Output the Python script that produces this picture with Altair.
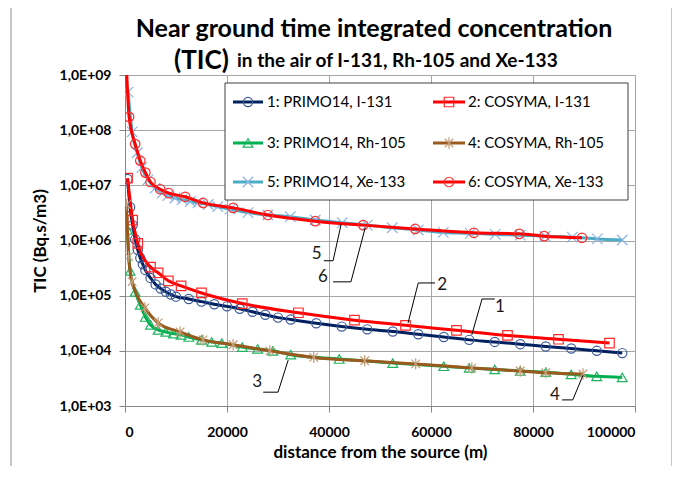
import altair as alt
import pandas as pd

# ---------------- data ----------------
names = ["1: PRIMO14, I-131", "2: COSYMA, I-131", "3: PRIMO14, Rh-105",
         "4: COSYMA, Rh-105", "5: PRIMO14, Xe-133", "6: COSYMA, Xe-133"]

s1_d = [500, 1000, 1500, 2000, 2500, 3000, 3500, 4000, 5000, 6000, 7000, 8000, 9000, 10000,
        12500, 15000, 17500, 20000, 22500, 25000, 27500, 30000, 32500, 37500, 42500, 47500,
        52500, 57500, 62500, 67500, 72500, 77500, 82500, 87500, 92500, 97500]
s1_v = [1.3e7, 4.0e6, 1.9e6, 1.05e6, 6.8e5, 4.8e5, 3.7e5, 2.9e5, 2.1e5, 1.6e5, 1.35e5, 1.18e5,
        1.05e5, 9.6e4, 8.7e4, 7.8e4, 7.0e4, 6.4e4, 5.8e4, 5.1e4, 4.5e4, 4.0e4, 3.7e4, 3.16e4,
        2.75e4, 2.45e4, 2.24e4, 2.0e4, 1.78e4, 1.58e4, 1.45e4, 1.32e4, 1.2e4, 1.1e4, 1.0e4, 9.1e3]

s2_d = [500, 1500, 2500, 5000, 6500, 8500, 11000, 15000, 23000, 34000, 45000, 55000, 65000,
        75000, 85000, 95000]
s2_v = [1.35e7, 2.35e6, 8.9e5, 3.3e5, 2.6e5, 1.86e5, 1.5e5, 1.12e5, 7.2e4, 4.9e4, 3.6e4, 2.9e4,
        2.35e4, 1.9e4, 1.62e4, 1.38e4]

s3_d = [500, 1000, 2000, 3000, 4000, 5000, 6500, 8000, 9500, 11000, 12500, 15000, 17000, 19000,
        23000, 26000, 29000, 32500, 42000, 52500, 62500, 67500, 72500, 77500, 82500, 87500,
        92500, 97500]
s3_v = [1.55e6, 2.8e5, 1.17e5, 6.8e4, 4.1e4, 2.95e4, 2.4e4, 2.2e4, 2.05e4, 1.95e4, 1.78e4,
        1.58e4, 1.45e4, 1.38e4, 1.17e4, 1.08e4, 1.0e4, 8.5e3, 7.1e3, 6.0e3, 5.25e3, 4.9e3,
        4.6e3, 4.3e3, 4.1e3, 3.75e3, 3.45e3, 3.3e3]

s4_d = [300, 700, 1400, 3900, 6500, 10800, 15300, 21200, 28400, 37000, 47000, 57000, 68000,
        77500, 82500, 89800]
s4_v = [4.5e6, 5.1e5, 1.8e5, 6.0e4, 3.2e4, 2.2e4, 1.58e4, 1.29e4, 1.0e4, 7.6e3, 6.6e3, 5.8e3,
        4.9e3, 4.3e3, 4.0e3, 3.8e3]

s5_d = [600, 1400, 2400, 3300, 4500, 5900, 7300, 8400, 9800, 11200, 12800, 14300, 16300, 18200,
        20600, 24100, 28000, 32400, 37300, 42600, 47500, 52400, 57500, 62400, 67700, 72600,
        77500, 82400, 87700, 92600, 97500]
s5_v = [4.9e8, 9.3e7, 3.9e7, 2.1e7, 1.26e7, 8.9e6, 7.2e6, 6.5e6, 5.9e6, 5.5e6, 5.1e6, 4.8e6,
        4.5e6, 4.1e6, 3.7e6, 3.2e6, 2.9e6, 2.7e6, 2.35e6, 2.1e6, 1.9e6, 1.7e6, 1.55e6, 1.4e6,
        1.35e6, 1.29e6, 1.25e6, 1.2e6, 1.15e6, 1.07e6, 1.02e6]

s6_d = [300, 800, 2000, 3000, 4000, 5000, 6900, 8600, 11800, 15300, 21200, 28000, 37300, 46700,
        56900, 68400, 77300, 82200, 89600]
s6_v = [1.3e9, 1.74e8, 5.6e7, 2.8e7, 1.7e7, 1.15e7, 8.5e6, 7.2e6, 6.2e6, 4.8e6, 3.9e6, 2.9e6,
        2.24e6, 1.9e6, 1.62e6, 1.38e6, 1.32e6, 1.2e6, 1.12e6]

series_d = [s1_d, s2_d, s3_d, s4_d, s5_d, s6_d]
series_v = [s1_v, s2_v, s3_v, s4_v, s5_v, s6_v]

# leader lines for the numbered labels (distance, value)
leader_id = ["5", "5", "5", "6", "6", "6", "2", "2", "2", "1", "1", "1", "3", "3", "3", "4", "4", "4"]
leader_k = [0, 1, 2] * 6
leader_d = [39000, 40800, 42400, 40800, 44300, 47100, 60800, 57500, 55500,
            72500, 70000, 68000, 27100, 30000, 32000, 85700, 87800, 89800]
leader_v = [4.3e5, 4.3e5, 2.0e6, 1.78e5, 1.78e5, 1.7e6, 1.7e5, 1.7e5, 3.2e4,
            8.7e4, 8.7e4, 1.95e4, 1.78e3, 1.78e3, 6.8e3, 1.29e3, 1.29e3, 3.6e3]

label_txt = ["5", "6", "2", "1", "3", "4"]
label_d = [37600, 38800, 62200, 73500, 25900, 84300]
label_v = [5.7e5, 2.2e5, 1.55e5, 6.2e4, 2.75e3, 1.58e3]

x_ticks = [0, 20000, 40000, 60000, 80000, 100000]
y_ticks = [1e3, 1e4, 1e5, 1e6, 1e7, 1e8, 1e9]

title1 = "Near ground time integrated concentration"
title2a = "(TIC)"
title2b = "in the air of I-131, Rh-105 and Xe-133"

# ---------------- styles ----------------
FONT = "Lato"
ASTER = "M-0.75,-0.75L0.75,0.75M-0.75,0.75L0.75,-0.75M0,-1L0,1"
XSH = "M-1,-1L1,1M-1,1L1,-1"
line_colors = ["#002060", "#ff0000", "#00b050", "#9a5a1e", "#4bacc6", "#ff0000"]
mark_colors = ["#3d5a99", "#ff2a2a", "#1fb35f", "#c39b76", "#8db4e2", "#ff3030"]
shapes = ["circle", "square", "triangle-up", ASTER, XSH, "circle"]
sizes = [85, 90, 95, 130, 110, 90]

W, H = 510, 331

xscale = alt.Scale(domain=[0, 100000], nice=False, zero=False)
yscale = alt.Scale(type="log", domain=[1e3, 1e9], nice=False)

xaxis = alt.Axis(values=x_ticks, format="d", title="distance from the source (m)",
                 titleX=W / 2, titleY=46, titleBaseline="middle", titleAlign="center",
                 labelPadding=13)
yaxis = alt.Axis(values=y_ticks, labelExpr="'1,0E+0' + round(log(datum.value) / LN10)",
                 title="TIC (Bq.s/m3)", titleX=-85, titleY=H / 2, titleAngle=-90,
                 titleBaseline="middle", titleAlign="center", labelPadding=8)

one = pd.DataFrame({"a": [0]})
layers = []

# outer chart border
layers.append(alt.Chart(one).mark_rect(fillOpacity=0, stroke="#8c8c8c", strokeWidth=1,
                                       cornerRadius=3).encode(
    x=alt.value(-114), x2=alt.value(547), y=alt.value(-70), y2=alt.value(430)))

for i in range(6):
    df = pd.DataFrame({"d": series_d[i], "v": series_v[i]})
    base = alt.Chart(df).encode(
        x=alt.X("d:Q", scale=xscale, axis=xaxis),
        y=alt.Y("v:Q", scale=yscale, axis=yaxis),
    )
    layers.append(base.mark_line(color=line_colors[i], strokeWidth=3, interpolate="monotone",
                                 clip=True))
    layers.append(base.mark_point(shape=shapes[i], size=sizes[i], filled=False,
                                  color=mark_colors[i], strokeWidth=1.2, clip=True, opacity=1))

ldf = pd.DataFrame({"id": leader_id, "k": leader_k, "d": leader_d, "v": leader_v})
layers.append(alt.Chart(ldf).mark_line(color="#000000", strokeWidth=1).encode(
    x=alt.X("d:Q", scale=xscale, axis=xaxis),
    y=alt.Y("v:Q", scale=yscale, axis=yaxis),
    detail="id:N", order="k:Q"))

tdf = pd.DataFrame({"t": label_txt, "d": label_d, "v": label_v})
layers.append(alt.Chart(tdf).mark_text(font=FONT, fontSize=17, color="#1a1a1a",
                                       baseline="middle", align="center").encode(
    x=alt.X("d:Q", scale=xscale, axis=xaxis),
    y=alt.Y("v:Q", scale=yscale, axis=yaxis),
    text="t:N"))

# legend box
layers.append(alt.Chart(one).mark_rect(fill="white", stroke="#404040", strokeWidth=1).encode(
    x=alt.value(100), x2=alt.value(503), y=alt.value(8), y2=alt.value(125)))
leg_rows = [27, 68, 107]
leg_cols = [(108, 138, 123, 142), (308, 340, 324, 343)]
for i in range(6):
    col = leg_cols[i % 2]
    ry = leg_rows[i // 2]
    layers.append(alt.Chart(one).mark_rule(color=line_colors[i], strokeWidth=3).encode(
        x=alt.value(col[0]), x2=alt.value(col[1]), y=alt.value(ry)))
    layers.append(alt.Chart(one).mark_point(shape=shapes[i], size=sizes[i], filled=False,
                                            color=mark_colors[i], strokeWidth=1.2,
                                            opacity=1).encode(
        x=alt.value(col[2]), y=alt.value(ry)))
    layers.append(alt.Chart(one).mark_text(font=FONT, fontSize=15, align="left",
                                           baseline="middle", color="#000000").encode(
        x=alt.value(col[3]), y=alt.value(ry), text=alt.value(names[i])))

# title (two lines, mixed sizes)
layers.append(alt.Chart(one).mark_text(font=FONT, fontSize=25, fontWeight="bold", align="center",
                                       baseline="alphabetic", color="#000000").encode(
    x=alt.value(249), y=alt.value(-38), text=alt.value(title1)))
layers.append(alt.Chart(one).mark_text(font=FONT, fontSize=26, fontWeight="bold", align="left",
                                       baseline="alphabetic", color="#000000").encode(
    x=alt.value(49), y=alt.value(-6), text=alt.value(title2a)))
layers.append(alt.Chart(one).mark_text(font=FONT, fontSize=19, fontWeight="bold", align="left",
                                       baseline="alphabetic", color="#000000").encode(
    x=alt.value(112), y=alt.value(-8), text=alt.value(title2b)))

chart = alt.layer(*layers).properties(
    width=W, height=H,
    padding={"left": 117, "top": 67, "right": 37, "bottom": 60},
    autosize=alt.AutoSizeParams(type="none"),
).configure_view(stroke=None).configure_axis(
    labelFont=FONT, labelFontSize=14, labelFontWeight="bold", labelColor="#000000",
    titleFont=FONT, titleFontSize=17, titleFontWeight="bold", titleColor="#000000",
    gridColor="#a6a6a6", gridWidth=1, domainColor="#868686", tickColor="#868686",
    tickSize=6,
)

chart.save("out.html", embed_options={"renderer": "svg", "actions": False})
